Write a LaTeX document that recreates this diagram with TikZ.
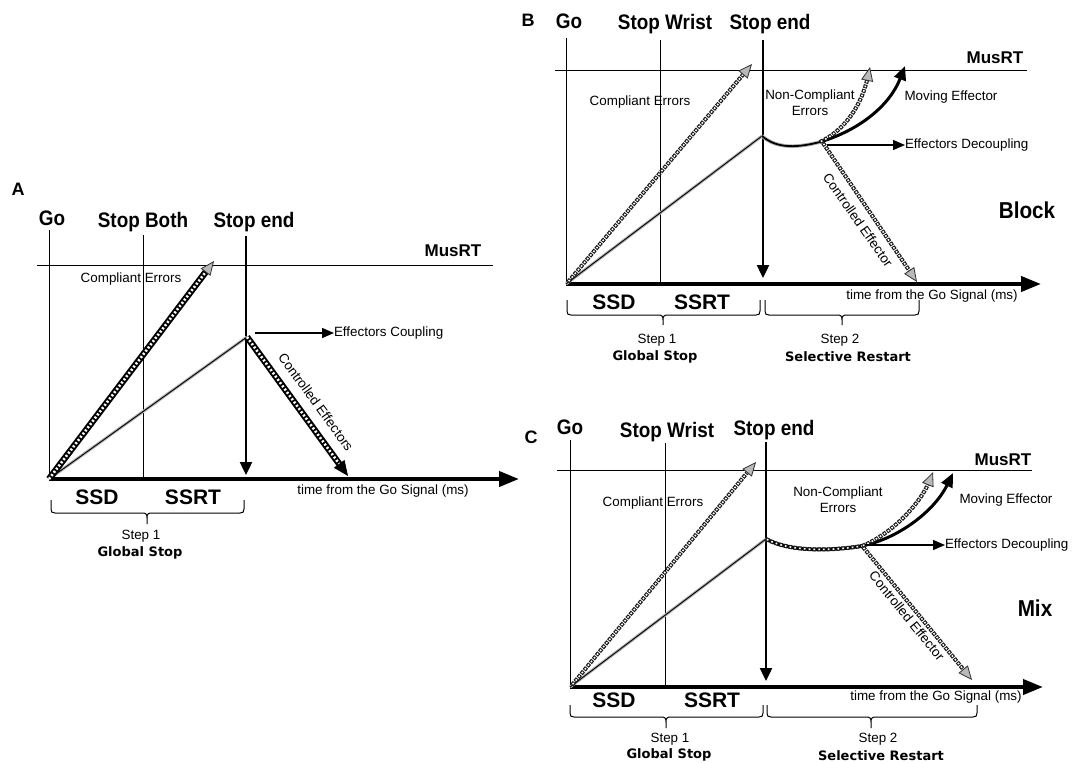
\documentclass[tikz,border=0pt]{standalone}
\usepackage{fontspec}
\setmainfont{Liberation Sans}
\newfontfamily\headfont{Liberation Sans}[FakeStretch=0.9]
\newfontfamily\stepfont{DejaVu Sans}
\usetikzlibrary{arrows.meta,calc}
\tikzset{
  every node/.style={inner sep=0pt, outer sep=0pt},
  head/.style={font={\headfont\bfseries\fontsize{21}{21}\selectfont}},
  panel/.style={font={\bfseries\fontsize{18}{18}\selectfont}},
  musrt/.style={font={\bfseries\fontsize{17}{17}\selectfont}},
  big/.style={font={\bfseries\fontsize{21}{21}\selectfont}},
  cond/.style={font={\headfont\bfseries\fontsize{23}{23}\selectfont}},
  small/.style={font={\fontsize{13.4}{16}\selectfont}},
  stepb/.style={font={\stepfont\bfseries\fontsize{13}{13}\selectfont}},
  thinln/.style={line width=0.8pt},
  stopln/.style={line width=2.4pt, -{Triangle[length=13pt,width=12pt]}},
  axisln/.style={line width=4pt, -{Triangle[length=20pt,width=15pt]}},
  harrow/.style={line width=1.5pt, -{Triangle[length=12pt,width=10pt]}},
  ramp/.style={draw=gray!60, line width=3pt, postaction={draw=black, line width=0.9pt}},
  rampthick/.style={draw=gray!60, line width=3.6pt, postaction={draw=black, line width=1.8pt}},
  hdots/.style={draw=black!90, line width=4pt, dash pattern=on 3.6pt off 1.2pt,
     postaction={draw=white, line width=1.6pt, dash pattern=on 1.6pt off 3.2pt, dash phase=3.8pt}},
  checker/.style={draw=black, line width=6.5pt,
     postaction={draw=white, line width=2.6pt, dash pattern=on 2pt off 2pt}},
  gtip/.style={draw=black!80, line width=0.8pt, -{Triangle[length=14pt,width=12pt,fill=gray!55]}},
  btip/.style={draw=black, line width=0.8pt, -{Triangle[length=15pt,width=13pt]}},
  moving/.style={line width=3pt, -{Triangle[length=14pt,width=12pt]}},
}
\newcommand\stepbrace[6]{%
  \draw[line width=1pt] (#1,#4) -- (#1,#5-4) .. controls (#1,#5-1) and (#1+1,#5) .. (#1+4,#5)
    -- (#3-5,#5) .. controls (#3-1,#5) and (#3,#5+1) .. (#3,#5+5) -- (#3,#6)
    (#3,#5+5) .. controls (#3,#5+1) and (#3+1,#5) .. (#3+5,#5)
    -- (#2-4,#5) .. controls (#2-1,#5) and (#2,#5-1) .. (#2,#5-4) -- (#2,#4);}
\begin{document}
\begin{tikzpicture}[x=1pt,y=-1pt]
\useasboundingbox[fill=white] (0,0) rectangle (1072,763);

% ================= Panel A =================
\coordinate (A0) at (49,479);
\coordinate (Apk) at (247,337);
\coordinate (Acmp) at (214,261);
\coordinate (Actl) at (348,476);
\draw[thinln] (49,230) -- (A0);
\draw[thinln] (143,235) -- (143,479);
\draw[thinln] (37,265) -- (493,265);
\draw[stopln] (246,236) -- (246,475);
\draw[axisln] (A0) -- (519,479);
\draw[ramp] (A0) -- (Apk);
\draw[checker] (A0) -- ($(Acmp)!10pt!(A0)$);
\draw[gtip] ($(Acmp)!2pt!(A0)$) -- (Acmp);
\draw[checker] (Apk) -- ($(Actl)!10pt!(Apk)$);
\draw[btip] ($(Actl)!2pt!(Apk)$) -- (Actl);
\coordinate (AcS) at (255,333);
\node[small, anchor=west] (Acoup) at (334,333) {Effectors Coupling};
\draw[harrow] (AcS) -- (Acoup.west);

\node[panel] (lA) at (18,189) {A};
\node[head] (AGo) at (52,218) {Go};
\node[head] (AStopB) at (143,222) {Stop Both};
\node[head] (AStopE) at (254,222) {Stop end};
\node[musrt] (AMus) at (453,251) {MusRT};
\node[small] (Acomp) at (131,279) {Compliant Errors};
\node[small, rotate=-54] (Actrl) at (316,402) {Controlled Effectors};
\node[small] (Atime) at (383,491) {time from the Go Signal (ms)};
\node[big] (ASSD) at (97,497) {SSD};
\node[big] (ASSRT) at (193,497) {SSRT};
\stepbrace{51}{244}{147}{500}{513}{524}
\node[small] (Astep) at (141,536) {Step 1};
\node[stepb] (Aglob) at (140,553) {Global Stop};

% ================= Panel B =================
\coordinate (B0) at (566,284);
\coordinate (Bpk) at (762,136);
\coordinate (Bcmp) at (752,64);
\coordinate (Bm) at (820,142);
\coordinate (Bmov) at (905,66);
\coordinate (Bnc) at (870,67);
\coordinate (Bctl) at (917,282);
\draw[thinln] (566,38) -- (B0);
\draw[thinln] (660,40) -- (660,284);
\draw[thinln] (555,70) -- (1027,70);
\draw[stopln] (763,40) -- (763,278);
\draw[axisln] (B0) -- (1041,284);
\draw[ramp] (B0) -- (Bpk);
\draw[hdots] (568,282) -- ($(Bcmp)!9pt!(568,282)$);
\draw[gtip] ($(Bcmp)!2pt!(568,282)$) -- (Bcmp);
\draw[rampthick] (Bpk) .. controls (778,150) and (800,147) .. (Bm);
\draw[moving] (Bm) .. controls (860,130) and (890,105) .. (Bmov);
\draw[hdots] (Bm) .. controls (845,130) and (862,105) .. (868,76);
\draw[gtip] ($(Bnc)!2pt!(862,105)$) -- (Bnc);
\draw[hdots] (823,143) -- ($(Bctl)!9pt!(823,143)$);
\draw[gtip] ($(Bctl)!2pt!(823,143)$) -- (Bctl);
\node[small, anchor=west] (Bdec) at (905,145) {Effectors Decoupling};
\draw[harrow] (827,145) -- (Bdec.west);

\node[panel] (lB) at (528,20) {B};
\node[head] (BGo) at (569,21) {Go};
\node[head] (BStopW) at (665,24) {Stop Wrist};
\node[head] (BStopE) at (770,24) {Stop end};
\node[musrt] (BMus) at (995,58) {MusRT};
\node[small] (Bcomp) at (640,102) {Compliant Errors};
\node[small, align=center] (Bnce) at (810,103) {Non-Compliant\\Errors};
\node[small] (Bmove) at (951,97) {Moving Effector};
\node[small, rotate=-55] (Bctrl) at (858,220) {Controlled Effector};
\node[cond] (Bblock) at (1027,210) {Block};
\node[small] (Btime) at (932,296) {time from the Go Signal (ms)};
\node[big] (BSSD) at (614,302) {SSD};
\node[big] (BSSRT) at (702,302) {SSRT};
\stepbrace{567}{760}{663}{300}{315}{325}
\stepbrace{765}{919}{842}{300}{315}{325}
\node[small] (Bstep1) at (657,340) {Step 1};
\node[stepb] (Bglob) at (655,357) {Global Stop};
\node[small] (Bstep2) at (840,340) {Step 2};
\node[stepb] (Bsel) at (848,357) {Selective Restart};

% ================= Panel C =================
\coordinate (C0) at (570,687);
\coordinate (Cpk) at (766,539);
\coordinate (Ccmp) at (756,462);
\coordinate (Cm) at (862,546);
\coordinate (Cmov) at (953,473);
\coordinate (Cnc) at (933,472);
\coordinate (Cctl) at (972,680);
\draw[thinln] (570,440) -- (C0);
\draw[thinln] (665,443) -- (665,687);
\draw[thinln] (557,470) -- (1032,470);
\draw[stopln] (766,442) -- (766,681);
\draw[axisln] (C0) -- (1043,687);
\draw[ramp] (C0) -- (Cpk);
\draw[hdots] (572,685) -- ($(Ccmp)!9pt!(572,685)$);
\draw[gtip] ($(Ccmp)!2pt!(572,685)$) -- (Ccmp);
\draw[line width=3.4pt] (Cpk) .. controls (790,552) and (830,551) .. (Cm);
\draw[moving] (Cm) .. controls (900,538) and (935,510) .. (Cmov);
\draw[hdots] (Cpk) .. controls (790,552) and (830,551) .. (Cm);
\draw[hdots] (Cm) .. controls (890,535) and (920,505) .. (930,480);
\draw[gtip] ($(Cnc)!2pt!(920,505)$) -- (Cnc);
\draw[hdots] (863,547) -- ($(Cctl)!9pt!(863,547)$);
\draw[gtip] ($(Cctl)!2pt!(863,547)$) -- (Cctl);
\node[small, anchor=west] (Cdec) at (945,545) {Effectors Decoupling};
\draw[harrow] (865,545) -- (Cdec.west);

\node[panel] (lC) at (531,437) {C};
\node[head] (CGo) at (570,427) {Go};
\node[head] (CStopW) at (667,432) {Stop Wrist};
\node[head] (CStopE) at (774,430) {Stop end};
\node[musrt] (CMus) at (1003,460) {MusRT};
\node[small] (Ccomp) at (653,503) {Compliant Errors};
\node[small, align=center] (Cnce) at (838,500) {Non-Compliant\\Errors};
\node[small] (Cmove) at (1006,500) {Moving Effector};
\node[small, rotate=-51] (Cctrl) at (907,616) {Controlled Effector};
\node[cond] (Cmix) at (1035,608) {Mix};
\node[small] (Ctime) at (936,697) {time from the Go Signal (ms)};
\node[big] (CSSD) at (614,700) {SSD};
\node[big] (CSSRT) at (712,700) {SSRT};
\stepbrace{570}{763}{666}{705}{717}{728}
\stepbrace{767}{977}{871}{705}{717}{728}
\node[small] (Cstep1) at (670,739) {Step 1};
\node[stepb] (Cglob) at (669,755) {Global Stop};
\node[small] (Cstep2) at (878,739) {Step 2};
\node[stepb] (Csel) at (881,756) {Selective Restart};
\end{tikzpicture}
\end{document}
